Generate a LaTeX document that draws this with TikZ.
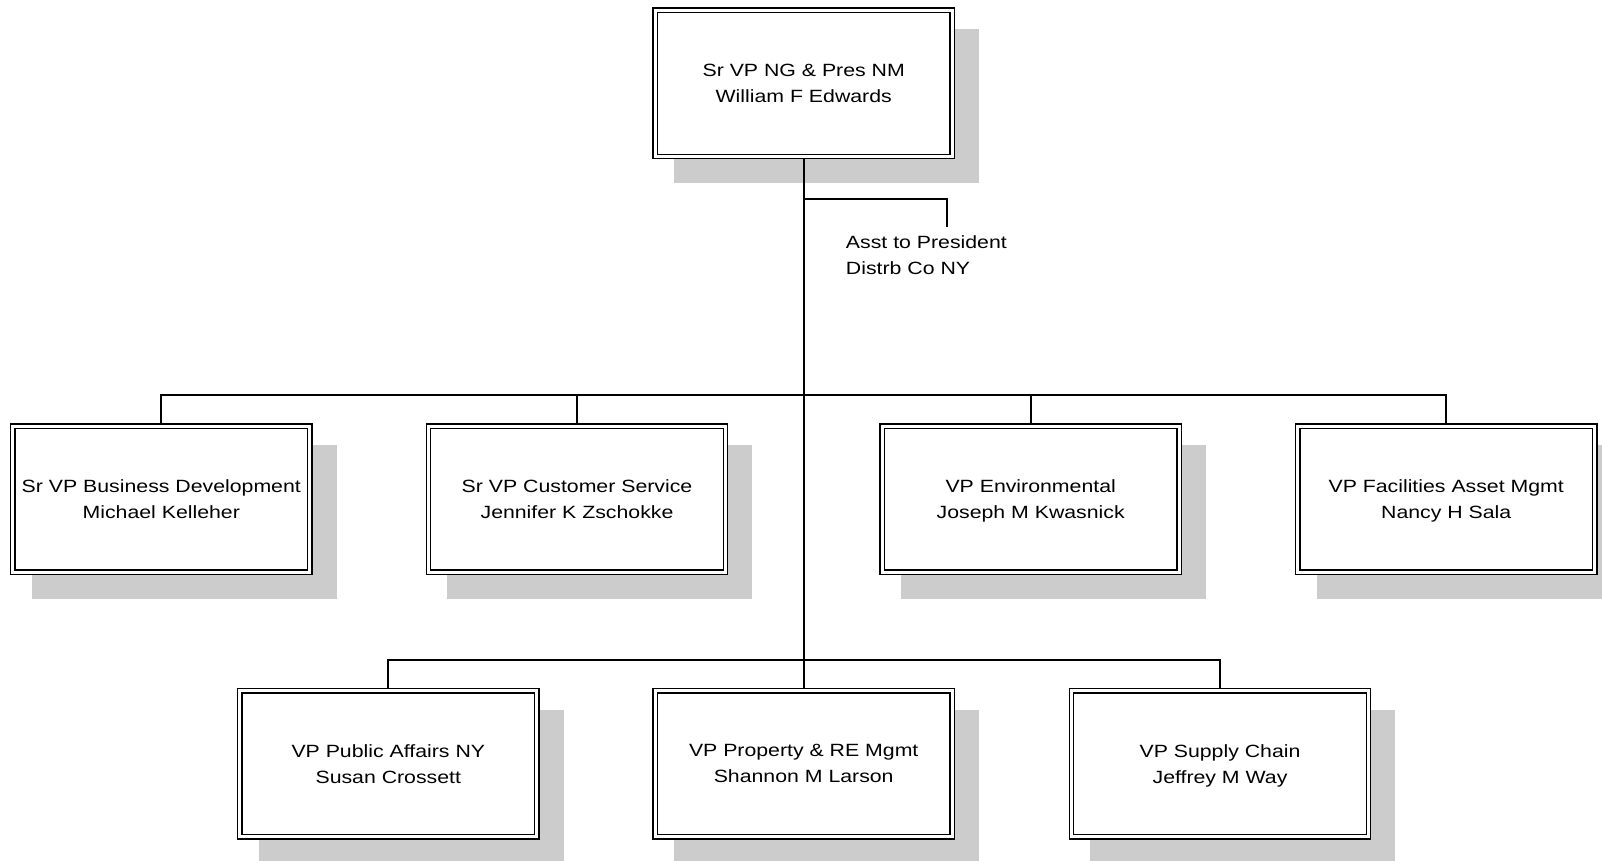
\documentclass[tikz,border=0pt]{standalone}
\usepackage{fontspec}
\setmainfont{Liberation Sans}[FakeStretch=1.2]
\usetikzlibrary{calc}
\pgfdeclarelayer{shadowlayer}
\pgfdeclarelayer{linelayer}
\pgfsetlayers{shadowlayer,linelayer,main}
\definecolor{shadowgray}{gray}{0.8}
\tikzset{
  orgbox/.style={draw=black, line width=1.05pt, double=white, double distance=2.2pt,
    fill=white, minimum width=222.75pt, minimum height=109.7pt, inner sep=0pt,
    align=center, text depth=0pt, font=\fontsize{13.3pt}{19.5pt}\selectfont},
  conn/.style={line width=1.3pt, draw=black},
  shadowfill/.style={fill=shadowgray},
  labeltext/.style={anchor=north west, inner sep=0pt, align=left,
    font=\fontsize{13.3pt}{19.5pt}\selectfont}
}
\newcommand{\boxshadow}[1]{\fill[shadowfill] ([shift={(19.65,19.65)}]#1.north west) rectangle ([shift={(26.25,26.25)}]#1.south east);}
\begin{document}
\begin{tikzpicture}[x=0.75pt,y=-0.75pt]
\useasboundingbox (0,0) rectangle (1602,860);
\clip (0,0) rectangle (1602,860);

\node[orgbox] (pres) at (803.7,83.3) {Sr VP NG \& Pres NM\\William F Edwards};
\node[orgbox] (bd)   at (161.3,499.2) {Sr VP Business Development\\Michael Kelleher};
\node[orgbox] (cs)   at (577,499.2) {Sr VP Customer Service\\Jennifer K Zschokke};
\node[orgbox] (env)  at (1030.7,499.2) {VP Environmental\\Joseph M Kwasnick};
\node[orgbox] (fac)  at (1446.2,499.2) {VP Facilities Asset Mgmt\\Nancy H Sala};
\node[orgbox] (pa)   at (388.3,763.8) {VP Public Affairs NY\\Susan Crossett};
\node[orgbox] (prop) at (803.7,763.8) {VP Property \& RE Mgmt\\Shannon M Larson};
\node[orgbox] (sc)   at (1220,763.8) {VP Supply Chain\\Jeffrey M Way};

\node[labeltext] (asst) at (845.7,235.6) {Asst to President\\Distrb Co NY};

\coordinate (asj) at (803.7,199.3);
\coordinate (asstend) at (946.7,226.7);
\coordinate (bus1) at (803.7,395);
\coordinate (bus2) at (803.7,660);

\begin{pgfonlayer}{shadowlayer}
  \foreach \n in {pres,bd,cs,env,fac,pa,prop,sc} {\boxshadow{\n}}
\end{pgfonlayer}

\begin{pgfonlayer}{linelayer}
  \draw[conn] (pres.south) -- (prop.north);
  \draw[conn] (asj) -| (asstend);
  \draw[conn] (bd.north) |- (bus1) -| (fac.north);
  \draw[conn] (cs.north) -- (cs.north |- bus1);
  \draw[conn] (env.north) -- (env.north |- bus1);
  \draw[conn] (pa.north) |- (bus2) -| (sc.north);
\end{pgfonlayer}
\end{tikzpicture}
\end{document}
